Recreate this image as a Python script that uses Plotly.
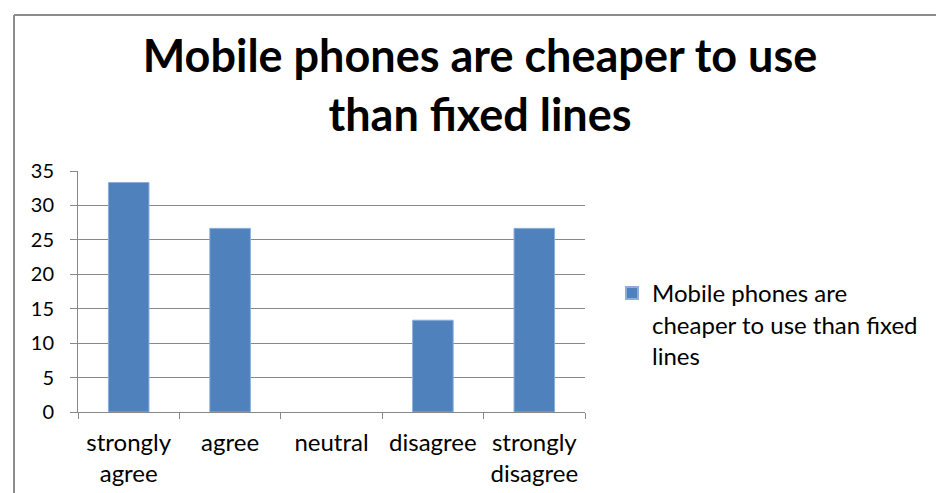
import plotly.graph_objects as go

categories = ["strongly<br>agree", "agree", "neutral", "disagree", "strongly<br>disagree"]
values = [33.33, 26.67, 0, 13.33, 26.67]
series_name = "Mobile phones are<br>cheaper to use than fixed<br>lines"
title_text = "Mobile phones are cheaper to use<br>than fixed lines"
y_ticks = [0, 5, 10, 15, 20, 25, 30, 35]

W, H = 936, 493
L, R, T, B = 78, 351, 171, 81
pw, ph = W - L - R, H - T - B

def px_x(p):
    return (p - L) / pw

def px_y(p):
    return (H - B - p) / ph

grid = "#888888"
font_fam = "Lato, 'Liberation Sans', sans-serif"

fig = go.Figure()
fig.add_trace(go.Bar(
    x=categories, y=values, name=series_name,
    marker=dict(color="#4F81BD",
                line=dict(color="#8DAEDB", width=[1 if v > 0 else 0 for v in values])),
    showlegend=True,
))

fig.update_layout(
    width=W, height=H,
    margin=dict(l=L, r=R, t=T, b=B, pad=0, autoexpand=False),
    paper_bgcolor="white", plot_bgcolor="white",
    bargap=0.6,
    title=dict(text="<b>" + title_text + "</b>", x=480 / W, xanchor="center", xref="container",
               y=1 - 72 / H, yanchor="middle", yref="container",
               font=dict(family=font_fam, size=45, color="black")),
    showlegend=True,
    legend=dict(x=px_x(612), y=px_y(271), xanchor="left", yanchor="top", valign="top",
                font=dict(family=font_fam, size=24, color="black"),
                itemsizing="constant", bgcolor="rgba(0,0,0,0)", tracegroupgap=0),
    xaxis=dict(type="category", showgrid=False, showline=True, linecolor=grid, linewidth=1,
               ticks="outside", tickson="boundaries", ticklen=6, tickcolor=grid,
               ticklabelstandoff=9, automargin=False,
               tickfont=dict(family=font_fam, size=24, color="black"), fixedrange=True),
    yaxis=dict(range=[0, 35], tickvals=y_ticks, showgrid=True, gridcolor=grid, gridwidth=1,
               showline=True, linecolor=grid, linewidth=1, ticks="outside", ticklen=7, tickcolor=grid,
               ticklabelstandoff=12, zeroline=False, automargin=False,
               tickfont=dict(family=font_fam, size=20, color="black"), fixedrange=True),
    shapes=[
        dict(type="line", xref="paper", yref="paper", x0=px_x(14), x1=px_x(14), y0=px_y(15), y1=px_y(500),
             line=dict(color="#8c8c8c", width=2)),
        dict(type="line", xref="paper", yref="paper", x0=px_x(14), x1=px_x(940), y0=px_y(15), y1=px_y(15),
             line=dict(color="#8c8c8c", width=2)),
    ],
)

fig.write_html("out.html")
